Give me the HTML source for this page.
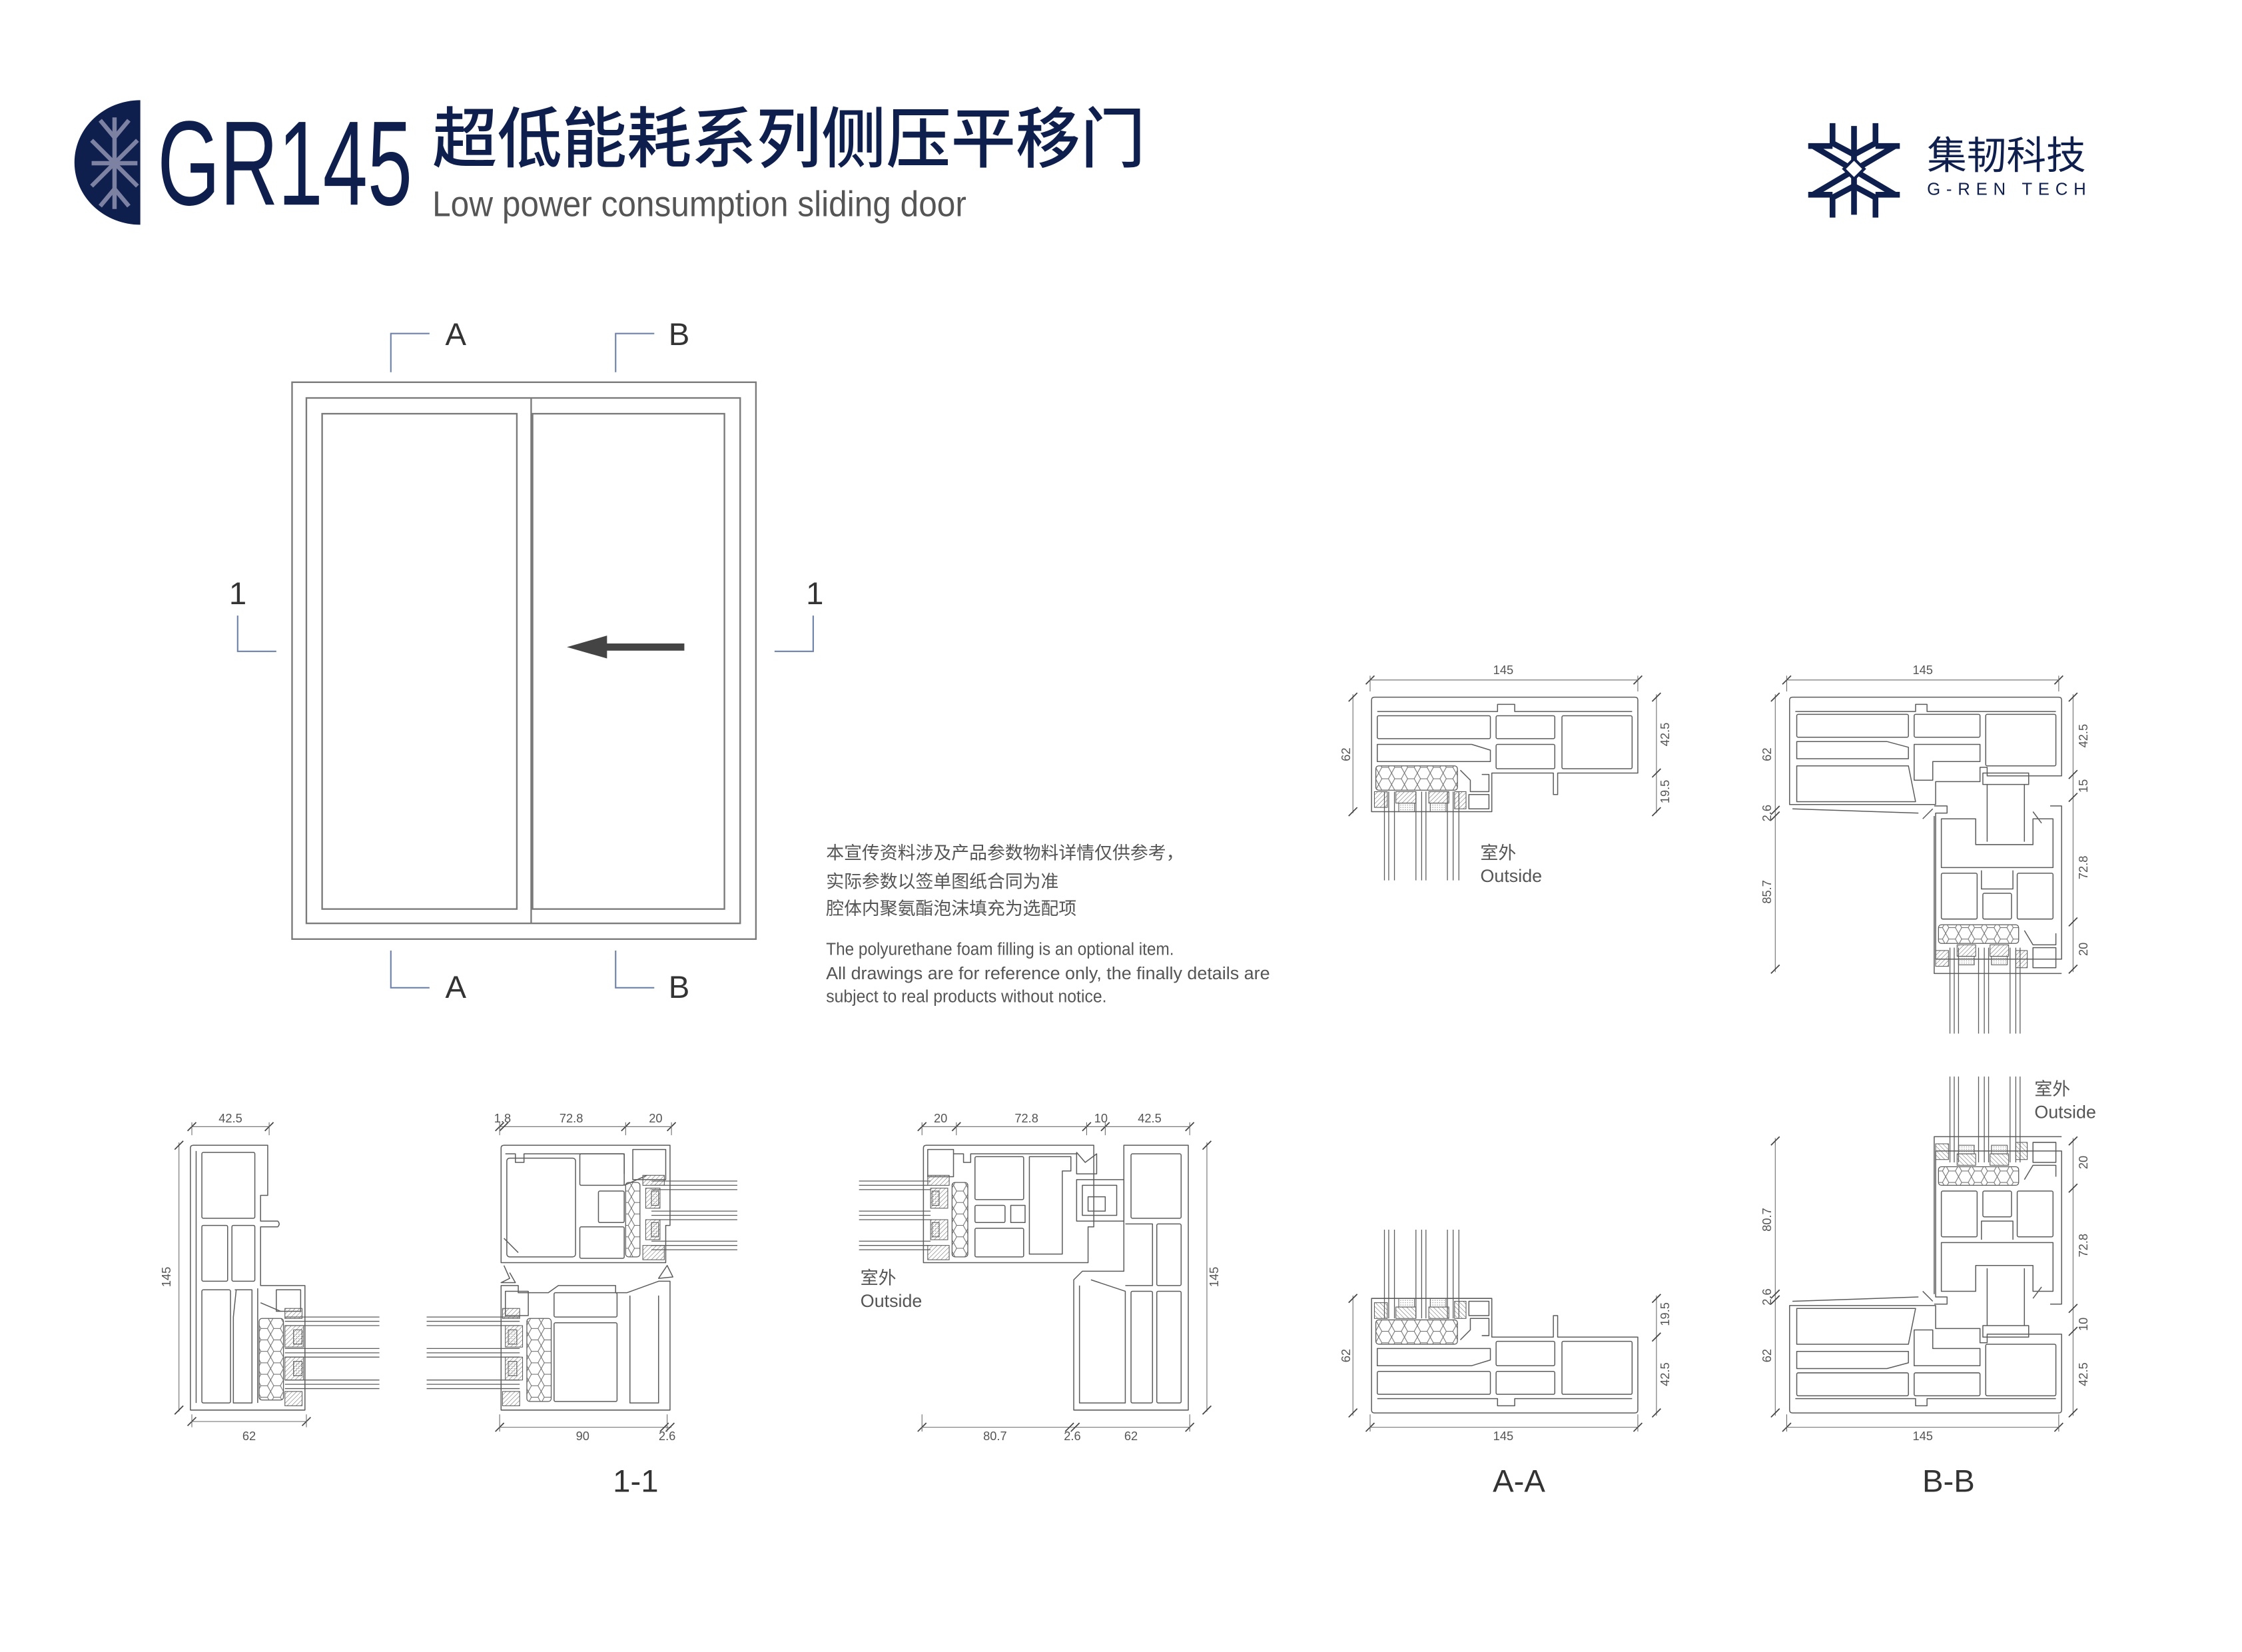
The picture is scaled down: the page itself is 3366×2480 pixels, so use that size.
<!DOCTYPE html>
<html><head><meta charset="utf-8"><style>
html,body{margin:0;padding:0;background:#fff}
svg{display:block}
.p{fill:none;stroke:#5c5c5c;stroke-width:.7;stroke-linejoin:round}
.d{fill:none;stroke:#6a6a6a;stroke-width:.5}
.t{stroke:#444;stroke-width:.8}
.n{font-family:"Liberation Sans Narrow","Liberation Sans",sans-serif;font-size:8.5px;fill:#555}
.g{fill:none;stroke:#5c5c5c;stroke-width:.6}
.m{fill:none;stroke:#6f82a8;stroke-width:1}
.ml{font-family:"Liberation Sans Narrow","Liberation Sans",sans-serif;font-size:22px;fill:#333}
</style></head><body>
<svg width="3366" height="2480" viewBox="0 0 1566 1154" preserveAspectRatio="none" xmlns="http://www.w3.org/2000/svg">
<defs>
<pattern id="hex" width="9" height="8" patternUnits="userSpaceOnUse">
<path d="M0,4 L2.2,0 H6.8 L9,4 L6.8,8 H2.2 Z" fill="none" stroke="#666" stroke-width=".45"/>
</pattern>
<pattern id="hat" width="2.2" height="2.2" patternUnits="userSpaceOnUse" patternTransform="rotate(45)">
<line x1="0" y1="0" x2="0" y2="2.2" stroke="#666" stroke-width=".5"/>
</pattern>
<pattern id="dot" width="1.6" height="1.6" patternUnits="userSpaceOnUse">
<circle cx=".8" cy=".8" r=".3" fill="#777"/>
</pattern>
</defs>

<!-- HEADER -->
<path d="M98,70 A46,43.5 0 0 0 98,157 Z" fill="#0f1f4d"/>
<g stroke="#7d82a3" stroke-width="3" fill="none">
<line x1="80" y1="82" x2="80" y2="146"/>
<line x1="64" y1="98" x2="96" y2="130"/>
<line x1="64" y1="130" x2="96" y2="98"/>
<line x1="64" y1="114" x2="96" y2="114"/>
<polyline points="70,84 80,96 90,84"/>
<polyline points="70,144 80,132 90,144"/>
</g>
<text x="110" y="143" font-family="Liberation Sans Narrow,Liberation Sans,sans-serif" font-size="84" fill="#0f1f4d" textLength="178" lengthAdjust="spacingAndGlyphs">GR145</text>
<text x="302" y="113" font-family="Liberation Sans,Noto Sans CJK SC,sans-serif" font-size="46" font-weight="500" fill="#0f1f4d" textLength="498" lengthAdjust="spacingAndGlyphs">超低能耗系列侧压平移门</text>
<text x="302" y="151" font-family="Liberation Sans Narrow,Liberation Sans,sans-serif" font-size="25" fill="#555" textLength="373" lengthAdjust="spacingAndGlyphs">Low power consumption sliding door</text>

<g stroke="#0f1f4d" stroke-width="4" fill="none" stroke-linecap="square">
<line x1="1295" y1="90" x2="1295" y2="148"/>
<line x1="1268" y1="103" x2="1322" y2="135"/>
<line x1="1268" y1="135" x2="1322" y2="103"/>
<polyline points="1280,88 1280,100 1295,108 1310,100 1310,88"/>
<polyline points="1280,150 1280,138 1295,130 1310,138 1310,150"/>
<polyline points="1265,102 1278,102"/>
<polyline points="1312,102 1325,102"/>
<polyline points="1265,136 1278,136"/>
<polyline points="1312,136 1325,136"/>
</g>
<rect x="1290" y="113" width="10" height="10" transform="rotate(45 1295 118)" fill="#fff" stroke="#0f1f4d" stroke-width="2"/>
<text x="1346" y="118" font-family="Liberation Sans,Noto Sans CJK SC,sans-serif" font-size="27" fill="#0f1f4d" textLength="111" lengthAdjust="spacingAndGlyphs">集韧科技</text>
<text x="1346" y="136" font-family="Liberation Sans,sans-serif" font-size="12" fill="#0f1f4d" textLength="111" lengthAdjust="spacing">G-REN TECH</text>

<!-- ELEVATION -->
<g fill="none" stroke="#7a7a7a" stroke-width="1.1">
<rect x="204" y="267" width="324" height="389"/>
<rect x="214" y="278" width="303" height="367"/>
<rect x="225" y="289" width="136" height="346"/>
<rect x="372" y="289" width="134" height="346"/>
<line x1="371" y1="278" x2="371" y2="645"/>
</g>
<line x1="478" y1="452" x2="418" y2="452" stroke="#444" stroke-width="5"/>
<polygon points="396,452 424,444 424,460" fill="#444"/>
<polyline class="m" points="273,260 273,233 300,233"/>
<polyline class="m" points="430,260 430,233 457,233"/>
<polyline class="m" points="273,664 273,690 300,690"/>
<polyline class="m" points="430,664 430,690 457,690"/>
<polyline class="m" points="166,430 166,455 193,455"/>
<polyline class="m" points="568,430 568,455 541,455"/>
<text class="ml" x="311" y="241">A</text>
<text class="ml" x="467" y="241">B</text>
<text class="ml" x="311" y="697">A</text>
<text class="ml" x="467" y="697">B</text>
<text class="ml" x="160" y="422">1</text>
<text class="ml" x="563" y="422">1</text>

<!-- NOTES -->
<g font-family="Liberation Sans,Noto Sans CJK SC,sans-serif" font-size="12.5" fill="#555">
<text x="577" y="600">本宣传资料涉及产品参数物料详情仅供参考，</text>
<text x="577" y="620">实际参数以签单图纸合同为准</text>
<text x="577" y="639">腔体内聚氨酯泡沫填充为选配项</text>
</g>
<g font-family="Liberation Sans Narrow,Liberation Sans,sans-serif" font-size="12" fill="#555">
<text x="577" y="667" textLength="243" lengthAdjust="spacingAndGlyphs">The polyurethane foam filling is an optional item.</text>
<text x="577" y="684" textLength="310" lengthAdjust="spacingAndGlyphs">All drawings are for reference only, the finally details are</text>
<text x="577" y="700" textLength="196" lengthAdjust="spacingAndGlyphs">subject to real products without notice.</text>
</g>

<!-- A-A TOP -->
<g id="aa">
<path class="p" d="M958,489 Q958,487 960,487 H1142 Q1144,487 1144,489 V540 H1088 V555 H1085 V540 H1042 V567 H958 Z"/>
<path class="p" d="M962,497 H1046 V492 H1058 V497 H1140"/>
<rect class="p" x="962" y="500" width="79" height="16" rx="1"/>
<rect class="p" x="1045" y="500" width="41" height="16" rx="1"/>
<rect class="p" x="1091" y="500" width="49" height="37" rx="1"/>
<path class="p" d="M962,520 H1028 L1041,524 V532 H962 Z"/>
<rect class="p" x="1045" y="520" width="41" height="17" rx="1"/>
<rect x="961" y="535" width="57" height="17" rx="2" fill="url(#hex)" stroke="#5c5c5c" stroke-width=".6"/>
<rect x="960" y="553" width="9" height="11" fill="url(#hat)" stroke="#5c5c5c" stroke-width=".5"/>
<rect x="975" y="553" width="14" height="8" fill="url(#hat)" stroke="#5c5c5c" stroke-width=".5"/>
<rect x="998" y="553" width="14" height="8" fill="url(#hat)" stroke="#5c5c5c" stroke-width=".5"/>
<rect x="1016" y="553" width="8" height="12" fill="url(#hat)" stroke="#5c5c5c" stroke-width=".5"/>
<rect x="977" y="561" width="11" height="6" fill="url(#dot)" stroke="#5c5c5c" stroke-width=".5"/>
<rect x="999" y="561" width="11" height="6" fill="url(#dot)" stroke="#5c5c5c" stroke-width=".5"/>
<path class="p" d="M1020,538 L1027,545 V553 H1040 V541 H1035"/>
<rect class="p" x="1026" y="555" width="14" height="10"/>
<g class="g">
<line x1="967" y1="553" x2="967" y2="615"/><line x1="970" y1="553" x2="970" y2="615"/><line x1="974" y1="553" x2="974" y2="615"/>
<line x1="989" y1="553" x2="989" y2="615"/><line x1="993" y1="553" x2="993" y2="615"/><line x1="996" y1="553" x2="996" y2="615"/>
<line x1="1011" y1="553" x2="1011" y2="615"/><line x1="1015" y1="553" x2="1015" y2="615"/><line x1="1019" y1="553" x2="1019" y2="615"/>
</g>
</g>
<line class="d" x1="957" y1="475" x2="1144" y2="475"/>
<line class="t" x1="954" y1="478" x2="960" y2="472"/><line class="t" x1="1141" y1="478" x2="1147" y2="472"/>
<line class="d" x1="957" y1="472" x2="957" y2="483"/><line class="d" x1="1144" y1="472" x2="1144" y2="483"/>
<text class="n" x="1050" y="471" text-anchor="middle">145</text>
<line class="d" x1="945" y1="485" x2="945" y2="568"/>
<line class="t" x1="942" y1="490" x2="948" y2="484"/><line class="t" x1="942" y1="570" x2="948" y2="564"/>
<text class="n" transform="translate(943,527) rotate(-90)" text-anchor="middle">62</text>
<line class="d" x1="1157" y1="485" x2="1157" y2="568"/>
<line class="t" x1="1154" y1="490" x2="1160" y2="484"/><line class="t" x1="1154" y1="543" x2="1160" y2="537"/><line class="t" x1="1154" y1="570" x2="1160" y2="564"/>
<text class="n" transform="translate(1166,513) rotate(-90)" text-anchor="middle">42.5</text>
<text class="n" transform="translate(1166,553) rotate(-90)" text-anchor="middle">19.5</text>
<text x="1034" y="600" font-family="Liberation Sans,Noto Sans CJK SC,sans-serif" font-size="12.5" fill="#555">室外</text>
<text x="1034" y="616" font-family="Liberation Sans Narrow,Liberation Sans,sans-serif" font-size="12.5" fill="#555">Outside</text>

<!-- A-A BOTTOM -->
<use href="#aa" transform="matrix(1,0,0,-1,0,1474)"/>
<line class="d" x1="957" y1="997" x2="1144" y2="997"/>
<line class="t" x1="954" y1="1000" x2="960" y2="994"/><line class="t" x1="1141" y1="1000" x2="1147" y2="994"/>
<line class="d" x1="957" y1="988" x2="957" y2="1000"/><line class="d" x1="1144" y1="988" x2="1144" y2="1000"/>
<text class="n" x="1050" y="1006" text-anchor="middle">145</text>
<line class="d" x1="945" y1="905" x2="945" y2="989"/>
<line class="t" x1="942" y1="910" x2="948" y2="904"/><line class="t" x1="942" y1="990" x2="948" y2="984"/>
<text class="n" transform="translate(943,947) rotate(-90)" text-anchor="middle">62</text>
<line class="d" x1="1157" y1="905" x2="1157" y2="989"/>
<line class="t" x1="1154" y1="910" x2="1160" y2="904"/><line class="t" x1="1154" y1="937" x2="1160" y2="931"/><line class="t" x1="1154" y1="990" x2="1160" y2="984"/>
<text class="n" transform="translate(1166,960) rotate(-90)" text-anchor="middle">42.5</text>
<text class="n" transform="translate(1166,918) rotate(-90)" text-anchor="middle">19.5</text>
<text x="1061" y="1042" font-family="Liberation Sans Narrow,Liberation Sans,sans-serif" font-size="22" fill="#333" text-anchor="middle">A-A</text>

<!-- B-B TOP -->
<g id="bb">
<path class="p" d="M1250,489 Q1250,487 1252,487 H1438 Q1440,487 1440,489 V542 H1388 V536 H1383 V546 H1352 V562 H1250 Z"/>
<path class="p" d="M1254,497 H1338 V492 H1346 V497 H1436"/>
<rect class="p" x="1255" y="499" width="78" height="16" rx="1"/>
<rect class="p" x="1337" y="499" width="46" height="16" rx="1"/>
<rect class="p" x="1387" y="499" width="49" height="36" rx="1"/>
<path class="p" d="M1255,518 H1318 L1333,522 V530 H1255 Z"/>
<path class="p" d="M1337,520 H1383 V532 H1350 V545 H1337 Z"/>
<path class="p" d="M1255,535 H1333 L1338,560 H1255 Z"/>
<path class="p" d="M1252,565 L1340,568"/>
<path class="p" d="M1351,563 H1360 V568 H1352 V670 H1440 V563 H1432"/>
<path class="p" d="M1351,570 V680 H1440"/>
<rect class="p" x="1385" y="540" width="32" height="8"/>
<path class="p" d="M1388,548 V588 M1414,548 V588"/>
<path class="p" d="M1356,572 H1380 V590 H1420 V572 H1434 V606 H1356 Z"/>
<rect class="p" x="1356" y="610" width="25" height="32" rx="1"/>
<rect class="p" x="1385" y="624" width="20" height="18" rx="1"/>
<rect class="p" x="1409" y="610" width="25" height="32" rx="1"/>
<path class="p" d="M1384,608 V621 H1406 V608"/>
<rect x="1354" y="646" width="56" height="13" rx="2" fill="url(#hex)" stroke="#5c5c5c" stroke-width=".6"/>
<rect x="1352" y="664" width="9" height="11" fill="url(#hat)" stroke="#5c5c5c" stroke-width=".5"/>
<rect x="1367" y="660" width="13" height="8" fill="url(#hat)" stroke="#5c5c5c" stroke-width=".5"/>
<rect x="1390" y="660" width="13" height="8" fill="url(#hat)" stroke="#5c5c5c" stroke-width=".5"/>
<rect x="1408" y="664" width="8" height="12" fill="url(#hat)" stroke="#5c5c5c" stroke-width=".5"/>
<rect x="1368" y="668" width="11" height="6" fill="url(#dot)" stroke="#5c5c5c" stroke-width=".5"/>
<rect x="1391" y="668" width="11" height="6" fill="url(#dot)" stroke="#5c5c5c" stroke-width=".5"/>
<rect class="p" x="1420" y="662" width="16" height="14"/>
<path class="p" d="M1414,650 L1420,660 H1436 V652"/>
<path class="p" d="M1343,572 L1350,565 M1420,567 L1426,575"/>
<g class="g">
<line x1="1362" y1="662" x2="1362" y2="722"/><line x1="1365" y1="662" x2="1365" y2="722"/><line x1="1368" y1="662" x2="1368" y2="722"/>
<line x1="1382" y1="662" x2="1382" y2="722"/><line x1="1386" y1="662" x2="1386" y2="722"/><line x1="1389" y1="662" x2="1389" y2="722"/>
<line x1="1404" y1="662" x2="1404" y2="722"/><line x1="1408" y1="662" x2="1408" y2="722"/><line x1="1411" y1="662" x2="1411" y2="722"/>
</g>
</g>
<line class="d" x1="1248" y1="475" x2="1438" y2="475"/>
<line class="t" x1="1245" y1="478" x2="1251" y2="472"/><line class="t" x1="1435" y1="478" x2="1441" y2="472"/>
<line class="d" x1="1248" y1="472" x2="1248" y2="483"/><line class="d" x1="1438" y1="472" x2="1438" y2="483"/>
<text class="n" x="1343" y="471" text-anchor="middle">145</text>
<line class="d" x1="1240" y1="485" x2="1240" y2="679"/>
<line class="t" x1="1237" y1="490" x2="1243" y2="484"/><line class="t" x1="1237" y1="569" x2="1243" y2="563"/><line class="t" x1="1237" y1="573" x2="1243" y2="567"/><line class="t" x1="1237" y1="680" x2="1243" y2="674"/>
<text class="n" transform="translate(1237,527) rotate(-90)" text-anchor="middle">62</text>
<text class="n" transform="translate(1237,568) rotate(-90)" text-anchor="middle">2.6</text>
<text class="n" transform="translate(1237,623) rotate(-90)" text-anchor="middle">85.7</text>
<line class="d" x1="1448" y1="485" x2="1448" y2="679"/>
<line class="t" x1="1445" y1="490" x2="1451" y2="484"/><line class="t" x1="1445" y1="544" x2="1451" y2="538"/><line class="t" x1="1445" y1="560" x2="1451" y2="554"/><line class="t" x1="1445" y1="647" x2="1451" y2="641"/><line class="t" x1="1445" y1="680" x2="1451" y2="674"/>
<text class="n" transform="translate(1458,514) rotate(-90)" text-anchor="middle">42.5</text>
<text class="n" transform="translate(1458,549) rotate(-90)" text-anchor="middle">15</text>
<text class="n" transform="translate(1458,606) rotate(-90)" text-anchor="middle">72.8</text>
<text class="n" transform="translate(1458,663) rotate(-90)" text-anchor="middle">20</text>

<!-- B-B BOTTOM -->
<use href="#bb" transform="matrix(1,0,0,-1,0,1474)"/>
<line class="d" x1="1248" y1="997" x2="1438" y2="997"/>
<line class="t" x1="1245" y1="1000" x2="1251" y2="994"/><line class="t" x1="1435" y1="1000" x2="1441" y2="994"/>
<line class="d" x1="1248" y1="988" x2="1248" y2="1000"/><line class="d" x1="1438" y1="988" x2="1438" y2="1000"/>
<text class="n" x="1343" y="1006" text-anchor="middle">145</text>
<line class="d" x1="1240" y1="795" x2="1240" y2="989"/>
<line class="t" x1="1237" y1="800" x2="1243" y2="794"/><line class="t" x1="1237" y1="907" x2="1243" y2="901"/><line class="t" x1="1237" y1="911" x2="1243" y2="905"/><line class="t" x1="1237" y1="990" x2="1243" y2="984"/>
<text class="n" transform="translate(1237,947) rotate(-90)" text-anchor="middle">62</text>
<text class="n" transform="translate(1237,906) rotate(-90)" text-anchor="middle">2.6</text>
<text class="n" transform="translate(1237,852) rotate(-90)" text-anchor="middle">80.7</text>
<line class="d" x1="1448" y1="795" x2="1448" y2="989"/>
<line class="t" x1="1445" y1="800" x2="1451" y2="794"/><line class="t" x1="1445" y1="833" x2="1451" y2="827"/><line class="t" x1="1445" y1="917" x2="1451" y2="911"/><line class="t" x1="1445" y1="933" x2="1451" y2="927"/><line class="t" x1="1445" y1="990" x2="1451" y2="984"/>
<text class="n" transform="translate(1458,960) rotate(-90)" text-anchor="middle">42.5</text>
<text class="n" transform="translate(1458,925) rotate(-90)" text-anchor="middle">10</text>
<text class="n" transform="translate(1458,870) rotate(-90)" text-anchor="middle">72.8</text>
<text class="n" transform="translate(1458,812) rotate(-90)" text-anchor="middle">20</text>
<text x="1421" y="765" font-family="Liberation Sans,Noto Sans CJK SC,sans-serif" font-size="12.5" fill="#555">室外</text>
<text x="1421" y="781" font-family="Liberation Sans Narrow,Liberation Sans,sans-serif" font-size="12.5" fill="#555">Outside</text>
<text x="1361" y="1042" font-family="Liberation Sans Narrow,Liberation Sans,sans-serif" font-size="22" fill="#333" text-anchor="middle">B-B</text>

<!-- 1-1 LEFT -->
<path class="p" d="M133,802 Q133,800 135,800 H187 V835 H182 V853 H194 Q196,855 194,857 H182 V898 H213 V985 H133 Z"/>
<path class="p" d="M137,804 V980"/>
<rect class="p" x="141" y="805" width="37" height="46" rx="1"/>
<rect class="p" x="141" y="856" width="18" height="39" rx="1"/>
<rect class="p" x="162" y="856" width="16" height="39" rx="1"/>
<rect class="p" x="141" y="901" width="20" height="79" rx="1"/>
<path class="p" d="M164,901 H176 V980 H163 V920 L165,901"/>
<rect class="p" x="193" y="901" width="17" height="15"/>
<path class="p" d="M180,900 V980 M182,910 L196,916"/>
<rect x="181" y="921" width="17" height="57" rx="2" fill="url(#hex)" stroke="#5c5c5c" stroke-width=".6"/>
<rect x="199" y="914" width="12" height="7" fill="url(#hat)" stroke="#5c5c5c" stroke-width=".5"/>
<rect x="199" y="972" width="12" height="10" fill="url(#hat)" stroke="#5c5c5c" stroke-width=".5"/>
<rect x="199" y="926" width="13" height="15" fill="url(#hat)" stroke="#5c5c5c" stroke-width=".5"/>
<rect x="199" y="948" width="13" height="16" fill="url(#hat)" stroke="#5c5c5c" stroke-width=".5"/>
<rect x="205" y="929" width="6" height="10" fill="url(#dot)" stroke="#5c5c5c" stroke-width=".5"/>
<rect x="205" y="951" width="6" height="10" fill="url(#dot)" stroke="#5c5c5c" stroke-width=".5"/>
<g class="g">
<line x1="199" y1="920" x2="265" y2="920"/><line x1="199" y1="923" x2="265" y2="923"/><line x1="199" y1="926" x2="265" y2="926"/>
<line x1="199" y1="942" x2="265" y2="942"/><line x1="199" y1="945" x2="265" y2="945"/><line x1="199" y1="948" x2="265" y2="948"/>
<line x1="199" y1="964" x2="265" y2="964"/><line x1="199" y1="967" x2="265" y2="967"/><line x1="199" y1="970" x2="265" y2="970"/>
</g>
<line class="d" x1="134" y1="787" x2="188" y2="787"/>
<line class="t" x1="131" y1="790" x2="137" y2="784"/><line class="t" x1="185" y1="790" x2="191" y2="784"/>
<line class="d" x1="134" y1="784" x2="134" y2="793"/><line class="d" x1="188" y1="784" x2="188" y2="793"/>
<text class="n" x="161" y="784" text-anchor="middle">42.5</text>
<line class="d" x1="125" y1="798" x2="125" y2="986"/>
<line class="t" x1="122" y1="803" x2="128" y2="797"/><line class="t" x1="122" y1="988" x2="128" y2="982"/>
<text class="n" transform="translate(119,892) rotate(-90)" text-anchor="middle">145</text>
<line class="d" x1="134" y1="993" x2="214" y2="993"/>
<line class="t" x1="131" y1="996" x2="137" y2="990"/><line class="t" x1="211" y1="996" x2="217" y2="990"/>
<line class="d" x1="134" y1="988" x2="134" y2="997"/><line class="d" x1="214" y1="988" x2="214" y2="997"/>
<text class="n" x="174" y="1006" text-anchor="middle">62</text>

<!-- 1-1 RIGHT -->
<path class="p" d="M350,802 Q350,800 352,800 H468 V856 H465 V882 H350 Z"/>
<path class="p" d="M353,806 H360 V812 H366 V806 H436 V820"/>
<rect class="p" x="354" y="809" width="48" height="69" rx="2"/>
<rect class="p" x="405" y="806" width="31" height="22" rx="1"/>
<rect class="p" x="418" y="832" width="18" height="22" rx="1"/>
<rect class="p" x="405" y="857" width="31" height="22" rx="1"/>
<rect class="p" x="442" y="803" width="23" height="21"/>
<path class="p" d="M436,828 L452,821 M352,865 L362,875"/>
<rect x="437" y="826" width="10" height="52" rx="2" fill="url(#hex)" stroke="#5c5c5c" stroke-width=".6"/>
<rect x="449" y="821" width="15" height="7" fill="url(#hat)" stroke="#5c5c5c" stroke-width=".5"/>
<rect x="449" y="870" width="15" height="10" fill="url(#hat)" stroke="#5c5c5c" stroke-width=".5"/>
<rect x="451" y="830" width="10" height="14" fill="url(#hat)" stroke="#5c5c5c" stroke-width=".5"/>
<rect x="451" y="852" width="10" height="14" fill="url(#hat)" stroke="#5c5c5c" stroke-width=".5"/>
<rect x="455" y="832" width="5" height="10" fill="url(#dot)" stroke="#5c5c5c" stroke-width=".5"/>
<rect x="455" y="854" width="5" height="10" fill="url(#dot)" stroke="#5c5c5c" stroke-width=".5"/>
<g class="g">
<line x1="455" y1="825" x2="515" y2="825"/><line x1="455" y1="828" x2="515" y2="828"/><line x1="455" y1="831" x2="515" y2="831"/>
<line x1="455" y1="846" x2="515" y2="846"/><line x1="455" y1="849" x2="515" y2="849"/><line x1="455" y1="852" x2="515" y2="852"/>
<line x1="455" y1="867" x2="515" y2="867"/><line x1="455" y1="870" x2="515" y2="870"/><line x1="455" y1="873" x2="515" y2="873"/>
</g>
<path class="p" d="M352,884 L356,893 L350,896 H360 L356,889 M460,893 L466,884 L470,892 Z"/>
<path class="p" d="M350,898 H362 V903 H383 L390,898 H430 V903 H438 L460,895 H468 V985 H350 Z"/>
<rect class="p" x="353" y="902" width="16" height="17"/>
<rect x="368" y="921" width="17" height="58" rx="2" fill="url(#hex)" stroke="#5c5c5c" stroke-width=".6"/>
<rect class="p" x="387" y="903" width="44" height="17" rx="1"/>
<rect class="p" x="387" y="924" width="44" height="55" rx="1"/>
<path class="p" d="M440,905 V980 H460 V905"/>
<rect x="351" y="914" width="12" height="7" fill="url(#hat)" stroke="#5c5c5c" stroke-width=".5"/>
<rect x="351" y="972" width="12" height="10" fill="url(#hat)" stroke="#5c5c5c" stroke-width=".5"/>
<rect x="353" y="926" width="12" height="15" fill="url(#hat)" stroke="#5c5c5c" stroke-width=".5"/>
<rect x="353" y="948" width="12" height="16" fill="url(#hat)" stroke="#5c5c5c" stroke-width=".5"/>
<rect x="355" y="929" width="6" height="10" fill="url(#dot)" stroke="#5c5c5c" stroke-width=".5"/>
<rect x="355" y="951" width="6" height="10" fill="url(#dot)" stroke="#5c5c5c" stroke-width=".5"/>
<g class="g">
<line x1="298" y1="920" x2="363" y2="920"/><line x1="298" y1="923" x2="363" y2="923"/><line x1="298" y1="926" x2="363" y2="926"/>
<line x1="298" y1="942" x2="363" y2="942"/><line x1="298" y1="945" x2="363" y2="945"/><line x1="298" y1="948" x2="363" y2="948"/>
<line x1="298" y1="964" x2="363" y2="964"/><line x1="298" y1="967" x2="363" y2="967"/><line x1="298" y1="970" x2="363" y2="970"/>
</g>
<line class="d" x1="349" y1="787" x2="469" y2="787"/>
<line class="t" x1="346" y1="790" x2="352" y2="784"/><line class="t" x1="349" y1="790" x2="355" y2="784"/><line class="t" x1="434" y1="790" x2="440" y2="784"/><line class="t" x1="466" y1="790" x2="472" y2="784"/>
<line class="d" x1="349" y1="784" x2="349" y2="793"/><line class="d" x1="437" y1="784" x2="437" y2="793"/><line class="d" x1="469" y1="784" x2="469" y2="793"/>
<text class="n" x="351" y="784" text-anchor="middle">1.8</text>
<text class="n" x="399" y="784" text-anchor="middle">72.8</text>
<text class="n" x="458" y="784" text-anchor="middle">20</text>
<line class="d" x1="349" y1="997" x2="469" y2="997"/>
<line class="t" x1="346" y1="1000" x2="352" y2="994"/><line class="t" x1="461" y1="1000" x2="467" y2="994"/><line class="t" x1="465" y1="1000" x2="471" y2="994"/>
<line class="d" x1="349" y1="988" x2="349" y2="1000"/><line class="d" x1="466" y1="988" x2="466" y2="1000"/>
<text class="n" x="407" y="1006" text-anchor="middle">90</text>
<text class="n" x="466" y="1006" text-anchor="middle">2.6</text>
<text x="444" y="1042" font-family="Liberation Sans Narrow,Liberation Sans,sans-serif" font-size="22" fill="#333" text-anchor="middle">1-1</text>

<!-- MIDDLE SECTION -->
<path class="p" d="M645,802 Q645,800 647,800 H764 V857 H760 V882 H645 Z"/>
<rect class="p" x="648" y="803" width="18" height="19"/>
<path class="p" d="M666,806 H673 V812 H678 V806 H752"/>
<rect class="p" x="681" y="808" width="34" height="30" rx="1"/>
<rect class="p" x="681" y="842" width="21" height="12" rx="1"/>
<rect class="p" x="681" y="858" width="34" height="20" rx="1"/>
<path class="p" d="M719,808 H748 V818 H742 V876 H719 Z"/>
<path class="p" d="M706,842 H716 V854 H706 Z"/>
<rect x="665" y="826" width="11" height="52" rx="2" fill="url(#hex)" stroke="#5c5c5c" stroke-width=".6"/>
<rect x="648" y="821" width="15" height="7" fill="url(#hat)" stroke="#5c5c5c" stroke-width=".5"/>
<rect x="648" y="870" width="15" height="10" fill="url(#hat)" stroke="#5c5c5c" stroke-width=".5"/>
<rect x="650" y="830" width="12" height="14" fill="url(#hat)" stroke="#5c5c5c" stroke-width=".5"/>
<rect x="650" y="852" width="12" height="14" fill="url(#hat)" stroke="#5c5c5c" stroke-width=".5"/>
<rect x="651" y="832" width="5" height="10" fill="url(#dot)" stroke="#5c5c5c" stroke-width=".5"/>
<rect x="651" y="854" width="5" height="10" fill="url(#dot)" stroke="#5c5c5c" stroke-width=".5"/>
<g class="g">
<line x1="600" y1="825" x2="650" y2="825"/><line x1="600" y1="828" x2="650" y2="828"/><line x1="600" y1="831" x2="650" y2="831"/>
<line x1="600" y1="846" x2="650" y2="846"/><line x1="600" y1="849" x2="650" y2="849"/><line x1="600" y1="852" x2="650" y2="852"/>
<line x1="600" y1="867" x2="650" y2="867"/><line x1="600" y1="870" x2="650" y2="870"/><line x1="600" y1="873" x2="650" y2="873"/>
</g>
<path class="p" d="M752,805 L758,812 L766,806 V820 H752 Z"/>
<path class="p" d="M752,824 H785 V853 H752 Z M756,828 H780 V849 H756 Z"/>
<path class="p" d="M760,836 H772 V846 H760 Z"/>
<path class="p" d="M785,800 H830 V985 H750 V894 L756,888 H785 Z"/>
<rect class="p" x="790" y="806" width="35" height="45" rx="1"/>
<rect class="p" x="808" y="855" width="17" height="43" rx="1"/>
<path class="p" d="M786,855 H805 V898 H786"/>
<rect class="p" x="790" y="902" width="15" height="78" rx="1"/>
<rect class="p" x="808" y="902" width="17" height="78" rx="1"/>
<path class="p" d="M754,898 V980 H786 V902 L762,894"/>
<line class="d" x1="644" y1="787" x2="831" y2="787"/>
<line class="t" x1="641" y1="790" x2="647" y2="784"/><line class="t" x1="665" y1="790" x2="671" y2="784"/><line class="t" x1="756" y1="790" x2="762" y2="784"/><line class="t" x1="769" y1="790" x2="775" y2="784"/><line class="t" x1="828" y1="790" x2="834" y2="784"/>
<line class="d" x1="644" y1="784" x2="644" y2="793"/><line class="d" x1="668" y1="784" x2="668" y2="793"/><line class="d" x1="759" y1="784" x2="759" y2="793"/><line class="d" x1="772" y1="784" x2="772" y2="793"/><line class="d" x1="831" y1="784" x2="831" y2="793"/>
<text class="n" x="657" y="784" text-anchor="middle">20</text>
<text class="n" x="717" y="784" text-anchor="middle">72.8</text>
<text class="n" x="769" y="784" text-anchor="middle">10</text>
<text class="n" x="803" y="784" text-anchor="middle">42.5</text>
<line class="d" x1="843" y1="798" x2="843" y2="986"/>
<line class="t" x1="840" y1="803" x2="846" y2="797"/><line class="t" x1="840" y1="988" x2="846" y2="982"/>
<text class="n" transform="translate(851,892) rotate(-90)" text-anchor="middle">145</text>
<line class="d" x1="644" y1="997" x2="831" y2="997"/>
<line class="t" x1="641" y1="1000" x2="647" y2="994"/><line class="t" x1="744" y1="1000" x2="750" y2="994"/><line class="t" x1="748" y1="1000" x2="754" y2="994"/><line class="t" x1="828" y1="1000" x2="834" y2="994"/>
<line class="d" x1="644" y1="988" x2="644" y2="1000"/><line class="d" x1="831" y1="988" x2="831" y2="1000"/>
<text class="n" x="695" y="1006" text-anchor="middle">80.7</text>
<text class="n" x="749" y="1006" text-anchor="middle">2.6</text>
<text class="n" x="790" y="1006" text-anchor="middle">62</text>
<text x="601" y="897" font-family="Liberation Sans,Noto Sans CJK SC,sans-serif" font-size="12.5" fill="#555">室外</text>
<text x="601" y="913" font-family="Liberation Sans Narrow,Liberation Sans,sans-serif" font-size="12.5" fill="#555">Outside</text>
</svg>
</body></html>
